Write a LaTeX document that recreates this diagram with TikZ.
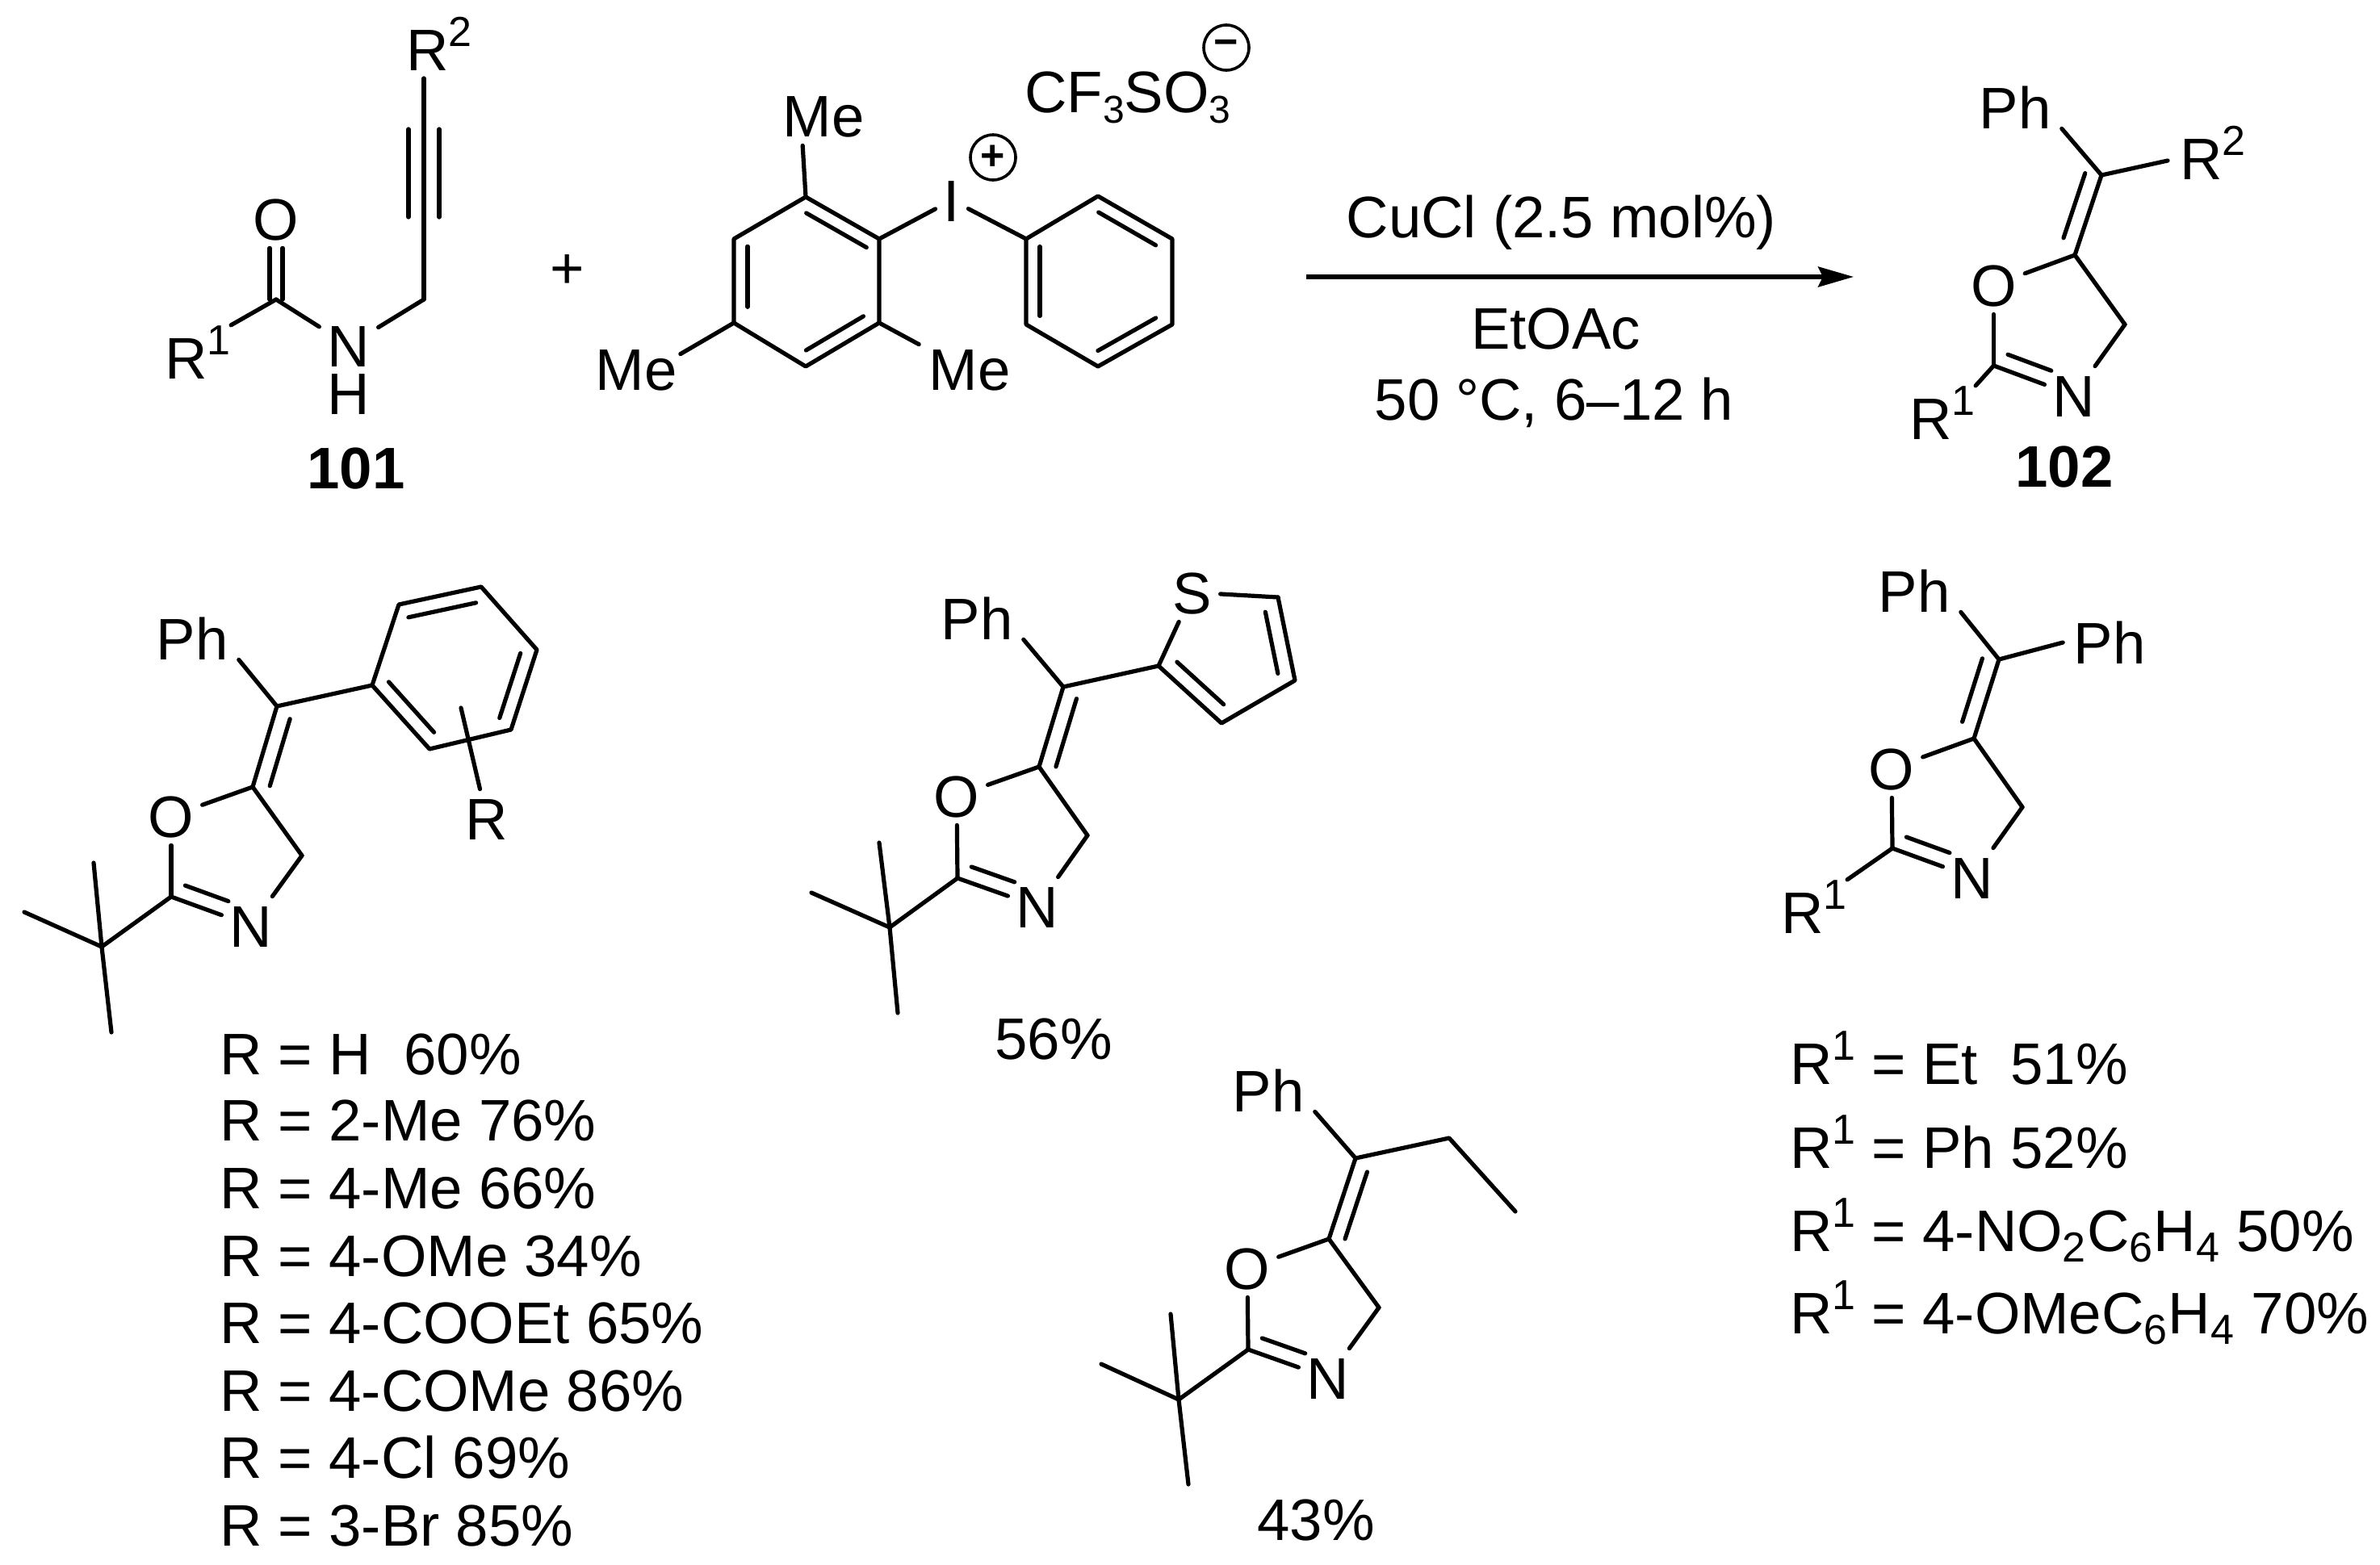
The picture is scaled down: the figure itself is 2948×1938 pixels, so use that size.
\documentclass[tikz,border=0pt]{standalone}
\usepackage{fontspec}
\setmainfont{Liberation Sans}
\usetikzlibrary{calc,arrows.meta}
\newcommand{\chemfont}{\fontsize{36.3}{40}\selectfont}
\newcommand{\supn}[1]{\raisebox{15pt}{\fontsize{26}{28}\selectfont #1}}
\newcommand{\subn}[1]{\raisebox{-6.5pt}{\fontsize{24}{26}\selectfont #1}}
\newcommand{\subw}[1]{\raisebox{-6.5pt}{\fontsize{26}{28}\selectfont #1}\kern.6pt\relax}
\tikzset{
  bond/.style={line width=2.6pt,line cap=round,line join=round,black},
  atom/.style={font=\chemfont,inner sep=5pt,text height=26pt,text depth=0pt,anchor=center},
  phlabel/.style={font=\chemfont,inner xsep=6.5pt,inner ysep=0pt,text height=26pt,text depth=0pt,anchor=center},
  melabel/.style={font=\chemfont,inner sep=0pt,text height=26pt,text depth=0pt,anchor=center},
  txt/.style={font=\chemfont,inner sep=0pt,anchor=base west},
  ctxt/.style={font=\chemfont,inner sep=0pt,anchor=base},
  chg/.style={circle,draw,line width=1.8pt,minimum size=28pt,inner sep=0pt,font=\fontsize{26}{28}\selectfont\bfseries},
}
% inner line of a double bond: from, to, start fraction, end fraction, offset
\newcommand{\inb}[5]{\draw[bond] ($(#1)!#3!(#2)!#5!90:(#2)$) -- ($(#1)!#4!(#2)!#5!90:(#2)$);}
% 4,5-dihydrooxazole ring with exocyclic C=C
\newcommand{\oxa}[4]{%
  \draw[bond] (#1x) -- (#1r);
  \inb{#1x}{#1r}{#2}{#3}{#4}
  \draw[bond] (#1r) -- (#1O);
  \draw[bond] (#1O) -- (#1c);
  \draw[bond] (#1c) -- (#1N);
  \inb{#1c}{#1N}{.11}{.65}{9.5pt}
  \draw[bond] (#1N) -- (#1h);
  \draw[bond] (#1h) -- (#1r);
}
\begin{document}
\begin{tikzpicture}[x=.5pt,y=-.5pt]
\useasboundingbox (0,0) rectangle (2948,1938);
\fill[white] (0,0) rectangle (2948,1938);

% ---------- 101
\coordinate (co) at (342,371);
\coordinate (ch) at (525,371);
\coordinate (ta) at (525,160);
\coordinate (tb) at (525,269);
\node[atom] (oc) at (342,271) {O};
\node[atom] (nh) at (432,428) {N};
\node[melabel] (hh) at (432,487) {H};
\node[txt] (r1a) at (204,469) {R\supn{1}};
\node[txt] (r2a) at (503,87) {R\supn{2}};
\node[ctxt,font=\chemfont\bfseries] (n101) at (441,605) {101};
\draw[bond] ($(co)+(-8,0)$) -- ($(oc.south)+(-8,0)$);
\draw[bond] ($(co)+(8,0)$) -- ($(oc.south)+(8,0)$);
\draw[bond] (co) -- (r1a.north east);
\draw[bond] (co) -- (nh);
\draw[bond] (nh) -- (ch);
\draw[bond] (ch) -- ($(r2a.base west)+(22,10)$);
\draw[bond] ($(ta)+(-19,0)$) -- ($(tb)+(-19,0)$);
\draw[bond] ($(ta)+(19,0)$) -- ($(tb)+(19,0)$);

\node[font=\chemfont,inner sep=0pt] (plus) at (703,337) {+};

% ---------- iodonium salt
\coordinate (m1) at (998,244);
\coordinate (m2) at (1089,296);
\coordinate (m3) at (1089,400);
\coordinate (m4) at (998,454);
\coordinate (m5) at (909,400);
\coordinate (m6) at (909,296);
\coordinate (p1) at (1360,243);
\coordinate (p2) at (1452,296);
\coordinate (p3) at (1452,402);
\coordinate (p4) at (1360,454);
\coordinate (p5) at (1271,402);
\coordinate (p6) at (1271,296);
\node[atom] (iod) at (1179,248) {I};
\node[melabel] (me1) at (1020,143) {Me};
\node[melabel] (me2) at (788,457) {Me};
\node[melabel] (me3) at (1201,457) {Me};
\node[chg] (plusc) at (1230,195) {+};
\node[chg] (minusc) at (1519,59) {−};
\node[txt] (anion) at (1269,139) {CF\subn{3}SO\subn{3}};
\draw[bond] (m1) -- (m2) -- (m3) -- (m4) -- (m5) -- (m6) -- cycle;
\draw[bond] (p1) -- (p2) -- (p3) -- (p4) -- (p5) -- (p6) -- cycle;
\inb{m1}{m2}{.1}{.92}{-8.5pt}
\inb{m5}{m6}{.19}{.91}{-8.5pt}
\inb{m4}{m3}{.1}{.88}{8.5pt}
\inb{p1}{p2}{.1}{.87}{-8.5pt}
\inb{p6}{p5}{.09}{.9}{8.5pt}
\inb{p4}{p3}{.09}{.87}{8.5pt}
\draw[bond] (m2) -- (iod);
\draw[bond] (iod) -- (p6);
\draw[bond] (m1) -- ($(me1.south west)+(25,11)$);
\draw[bond] (m5) -- ($(me2.north east)+(4,8)$);
\draw[bond] (m3) -- ($(me3.north west)+(-12,-4)$);

% ---------- arrow and conditions
\coordinate (arrs) at (1618,343);
\coordinate (arre) at (2296,343);
\draw[line width=2.6pt,-{Stealth[length=22pt,width=12.5pt,inset=3pt]}] (arrs) -- (arre);
\node[ctxt] (cond1) at (1934,294) {CuCl (2.5 mol\%)};
\node[ctxt] (cond2) at (1927,432) {EtOAc};
\node[ctxt] (cond3) at (1925,520) {50 °C, 6–12 h};

% ---------- 102
\coordinate (ex) at (2603,217);
\coordinate (er) at (2570,316);
\coordinate (ec) at (2469.5,453);
\coordinate (eh) at (2632,402);
\node[atom] (eO) at (2469.5,353) {O};
\node[atom] (eN) at (2569,490) {N};
\node[phlabel] (eP) at (2496,133) {Ph};
\node[txt] (eR2) at (2700,222) {R\supn{2}};
\node[txt] (eR1) at (2365,544) {R\supn{1}};
\node[ctxt,font=\chemfont\bfseries] (n102) at (2557,603) {102};
\oxa{e}{.04}{.85}{-10pt}
\draw[bond] (ex) -- (eP.south east);
\draw[bond] (ex) -- ($(eR2.base west)+(-15,-23)$);
\draw[bond] (ec) -- (eR1.north east);

% ---------- aryl compound
\coordinate (ax) at (343,875);
\coordinate (ar) at (313,975);
\coordinate (ac) at (212,1111);
\coordinate (ah) at (374,1060);
\coordinate (at) at (126,1173);
\coordinate (am1) at (116,1069);
\coordinate (am2) at (30,1130);
\coordinate (am3) at (138,1279);
\coordinate (a1) at (461,849);
\coordinate (a2) at (494,749);
\coordinate (a3) at (596,727);
\coordinate (a4) at (665,805);
\coordinate (a5) at (633,904);
\coordinate (a6) at (532,928);
\coordinate (asub) at (571,877);
\node[atom] (aO) at (212,1011) {O};
\node[atom] (aN) at (311,1147) {N};
\node[phlabel] (aP) at (238,791) {Ph};
\node[atom] (aR) at (603,1014) {R};
\oxa{a}{.1}{.93}{10pt}
\draw[bond] (ax) -- (aP.south east);
\draw[bond] (ax) -- (a1);
\draw[bond] (a1) -- (a2) -- (a3) -- (a4) -- (a5) -- (a6) -- cycle;
\inb{a1}{a6}{.1}{.89}{9pt}
\inb{a2}{a3}{.08}{.9}{-9pt}
\inb{a4}{a5}{.1}{.91}{-9pt}
\draw[bond] (asub) -- (aR);
\draw[bond] (ac) -- (at);
\draw[bond] (at) -- (am1);
\draw[bond] (at) -- (am2);
\draw[bond] (at) -- (am3);

\node[txt] (l1) at (272,1331) {R = H\ \ 60\%};
\node[txt] (l2) at (272,1413.5) {R = 2-Me 76\%};
\node[txt] (l3) at (272,1497) {R = 4-Me 66\%};
\node[txt] (l4) at (272,1581) {R = 4-OMe 34\%};
\node[txt] (l5) at (272,1664) {R = 4-COOEt 65\%};
\node[txt] (l6) at (272,1748) {R = 4-COMe 86\%};
\node[txt] (l7) at (272,1831.5) {R = 4-Cl 69\%};
\node[txt] (l8) at (272,1915) {R = 3-Br 85\%};

% ---------- thienyl compound
\coordinate (bx) at (1317,851);
\coordinate (br) at (1287,950);
\coordinate (bc) at (1186,1088);
\coordinate (bh) at (1347,1035);
\coordinate (bt) at (1102,1149);
\coordinate (bm1) at (1089,1044);
\coordinate (bm2) at (1005,1106);
\coordinate (bm3) at (1112,1255);
\coordinate (th2) at (1435,825);
\coordinate (th3) at (1513,896);
\coordinate (th4) at (1604,843);
\coordinate (th5) at (1583,740);
\node[atom] (bO) at (1185,986) {O};
\node[atom] (bN) at (1285,1123) {N};
\node[phlabel] (bP) at (1210,766) {Ph};
\node[atom] (thS) at (1477,734) {S};
\oxa{b}{.09}{.94}{10pt}
\draw[bond] (bx) -- (bP.south east);
\draw[bond] (bx) -- (th2);
\draw[bond] (th2) -- (thS);
\draw[bond] (thS) -- (th5);
\draw[bond] (th5) -- (th4) -- (th3) -- (th2);
\inb{th2}{th3}{.13}{.87}{9.5pt}
\inb{th4}{th5}{.12}{.86}{9.5pt}
\draw[bond] (bc) -- (bt);
\draw[bond] (bt) -- (bm1);
\draw[bond] (bt) -- (bm2);
\draw[bond] (bt) -- (bm3);
\node[ctxt] (y56) at (1305,1312) {56\%};

% ---------- ethyl compound
\coordinate (dx) at (1679,1435);
\coordinate (dr) at (1646,1535);
\coordinate (dc) at (1546,1672);
\coordinate (dh) at (1708,1620);
\coordinate (dt) at (1460,1734);
\coordinate (dm1) at (1450,1628);
\coordinate (dm2) at (1364,1690);
\coordinate (dm3) at (1472,1839);
\coordinate (det) at (1795,1410);
\coordinate (dme) at (1877,1501);
\node[atom] (dO) at (1545,1571) {O};
\node[atom] (dN) at (1645,1707) {N};
\node[phlabel] (dP) at (1571,1351) {Ph};
\oxa{d}{.11}{.94}{9.5pt}
\draw[bond] (dx) -- (dP.south east);
\draw[bond] (dx) -- (det) -- (dme);
\draw[bond] (dc) -- (dt);
\draw[bond] (dt) -- (dm1);
\draw[bond] (dt) -- (dm2);
\draw[bond] (dt) -- (dm3);
\node[ctxt] (y43) at (1630,1908) {43\%};

% ---------- diphenyl compound
\coordinate (cx) at (2476,817);
\coordinate (cr) at (2445,915);
\coordinate (cc) at (2344,1051);
\coordinate (ch2) at (2505,1000);
\node[atom] (cO) at (2343,952) {O};
\node[atom] (cN) at (2443,1087) {N};
\node[phlabel] (cP) at (2371,732) {Ph};
\node[phlabel] (cQ) at (2613,796) {Ph};
\node[txt] (cR) at (2206,1156) {R\supn{1}};
\draw[bond] (cx) -- (cr);
\inb{cx}{cr}{.05}{.85}{-10pt}
\draw[bond] (cr) -- (cO);
\draw[bond] (cO) -- (cc);
\draw[bond] (cc) -- (cN);
\inb{cc}{cN}{.11}{.65}{9.5pt}
\draw[bond] (cN) -- (ch2);
\draw[bond] (ch2) -- (cr);
\draw[bond] (cx) -- (cP.south east);
\draw[bond] (cx) -- (cQ.west);
\draw[bond] (cc) -- (cR.north east);

\node[txt] (m1l) at (2217,1343) {R\supn{1} = Et\ \ 51\%};
\node[txt] (m2l) at (2217,1447) {R\supn{1} = Ph 52\%};
\node[txt] (m3l) at (2217,1550) {R\supn{1} = 4-NO\subw{2}C\subw{6}H\subw{4} 50\%};
\node[txt] (m4l) at (2217,1652) {R\supn{1} = 4-OMeC\subw{6}H\subw{4} 70\%};
\end{tikzpicture}
\end{document}
